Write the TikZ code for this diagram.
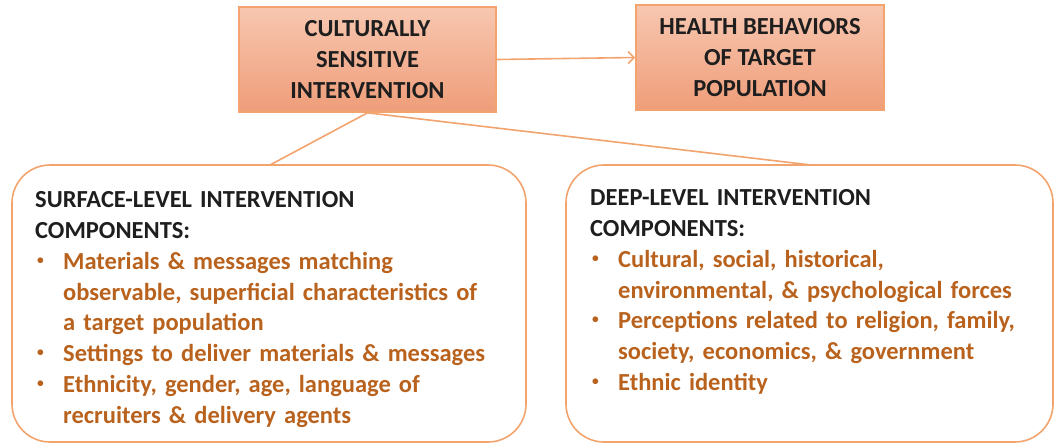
\documentclass[tikz,border=0pt]{standalone}
\usepackage{fontspec}
\setmainfont{Carlito}
\usetikzlibrary{arrows.meta}

\definecolor{edgeorange}{HTML}{F2A36E}
\definecolor{boxtop}{HTML}{F7C7B0}
\definecolor{boxbottom}{HTML}{EF9D79}
\definecolor{itemtext}{HTML}{B9621D}
\definecolor{headtext}{HTML}{1E1E1E}

% one bulleted entry with a hanging indent; \nl breaks a line inside it
\newcommand{\nl}{\hfil\break}
\newcommand{\bulletitem}[1]{\par\hangindent=28pt\hangafter=1\noindent
  \makebox[28pt][l]{\hspace{2pt}\raisebox{0.45ex}{\scalebox{0.55}{•}}}#1\par}

\tikzset{
  bigfont/.style={font=\bfseries\fontsize{24.5}{30.8}\selectfont},
  headbox/.style={draw=edgeorange, line width=1.6pt, top color=boxtop,
    bottom color=boxbottom, inner sep=0pt, align=center, text=headtext, bigfont},
  groupbox/.style={draw=edgeorange, line width=1.6pt, rounded corners=38pt,
    inner sep=0pt},
  grouptext/.style={anchor=north west, inner sep=0pt, text width=470pt,
    text=headtext, bigfont},
  link/.style={draw=edgeorange, line width=1.6pt},
}

\begin{document}
\begin{tikzpicture}[x=1pt, y=-1pt]
  \useasboundingbox (0,0) rectangle (1055,444);

  % top row: intervention and outcome
  \node[headbox, minimum width=257pt, minimum height=105pt] (cs) at (367.5,59.5)
    {CULTURALLY\\SENSITIVE\\INTERVENTION};
  \node[headbox, minimum width=248pt, minimum height=105pt] (hb) at (760,57.5)
    {HEALTH BEHAVIORS\\OF TARGET\\POPULATION};
  \draw[link, -{Straight Barb[length=6pt, width=12pt, line width=1.6pt]}]
    (cs.east) -- (hb.west);

  % bottom row: the two kinds of components
  \node[groupbox, minimum width=514pt, minimum height=277pt] (surf) at (269,303.5) {};
  \node[groupbox, minimum width=487pt, minimum height=277pt] (deep) at (809.5,303.5) {};

  \coordinate (surftop) at (270,165);
  \coordinate (deeptop) at (811,165);
  \draw[link] (cs.south) -- (surftop);
  \draw[link] (cs.south) -- (deeptop);

  \node[grouptext] (surftext) at (35,191.5) {\raggedright
    SURFACE-LEVEL INTERVENTION\par
    COMPONENTS:\par
    \color{itemtext}%
    \bulletitem{Materials \& messages matching\nl observable, superficial characteristics of\nl a target population}
    \bulletitem{Settings to deliver materials \& messages}
    \bulletitem{Ethnicity, gender, age, language of\nl recruiters \& delivery agents}};

  \node[grouptext] (deeptext) at (590,189.5) {\raggedright
    DEEP-LEVEL INTERVENTION\par
    COMPONENTS:\par
    \color{itemtext}%
    \bulletitem{Cultural, social, historical,\nl environmental, \& psychological forces}
    \bulletitem{Perceptions related to religion, family,\nl society, economics, \& government}
    \bulletitem{Ethnic identity}};
\end{tikzpicture}
\end{document}
